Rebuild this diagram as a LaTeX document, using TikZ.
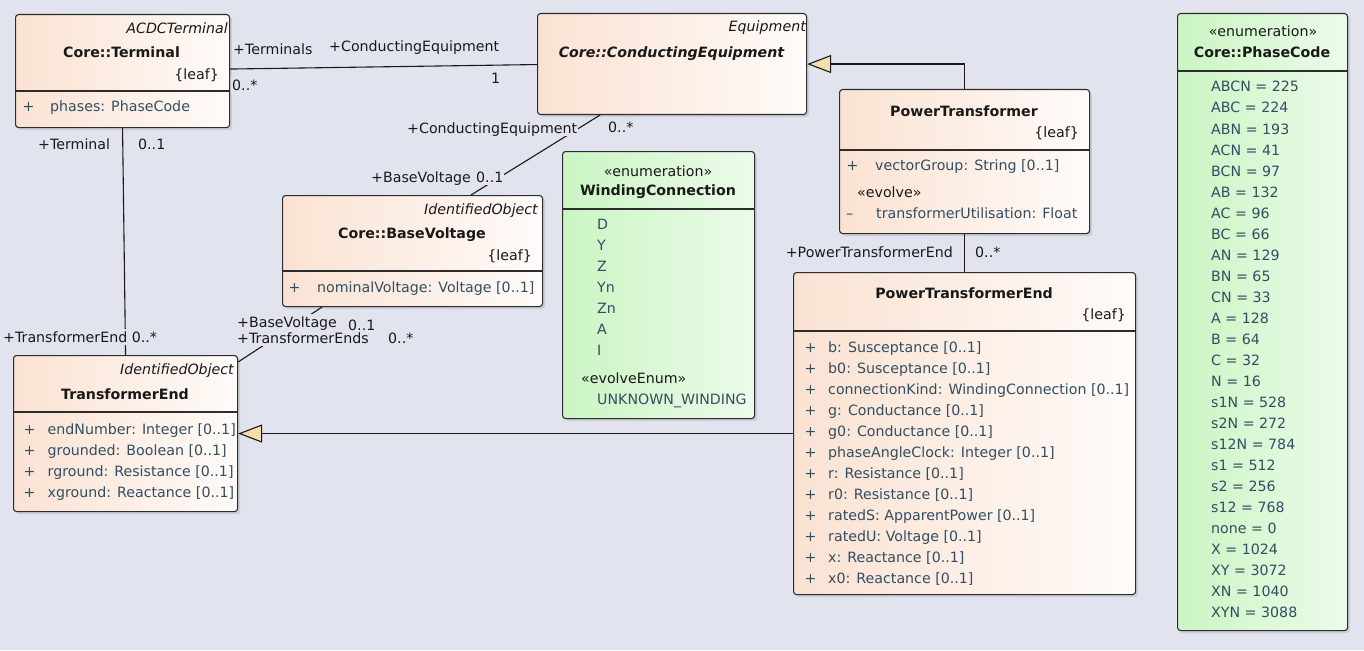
\documentclass[tikz,border=0pt]{standalone}
\usepackage{fontspec}
\setmainfont{DejaVu Sans}
\usetikzlibrary{arrows.meta,calc,shadows}

\definecolor{canvas}{RGB}{225,228,238}
\definecolor{ink}{RGB}{25,25,25}
\definecolor{frame}{RGB}{45,45,45}
\definecolor{peachL}{RGB}{250,226,210}
\definecolor{peachR}{RGB}{255,251,249}
\definecolor{mintL}{RGB}{203,245,195}
\definecolor{mintR}{RGB}{236,251,234}
\definecolor{attr}{RGB}{50,78,98}
\definecolor{shade}{RGB}{203,206,215}
\definecolor{tri}{RGB}{248,221,172}

\newcommand{\umlfont}{\fontsize{14.2}{17}\selectfont}

\begin{document}
\begin{tikzpicture}[x=1pt,y=-1pt,
  box/.style={draw=frame, line width=1.1pt, rounded corners=3pt, anchor=north west, inner sep=0pt,
     drop shadow={shadow xshift=2.5pt, shadow yshift=-2.5pt, fill=shade, opacity=1}},
  cls/.style={box, left color=peachL, right color=peachR},
  enm/.style={box, left color=mintL, right color=mintR},
  txt/.style={inner sep=0pt, text height=13pt, text depth=3pt, font=\umlfont, text=ink},
  title/.style={txt, font=\umlfont\bfseries},
  parent/.style={txt, font=\umlfont\itshape, anchor=east},
  leaf/.style={txt, anchor=east},
  item/.style={txt, anchor=west, text=attr},
  stereo/.style={txt, anchor=west},
  mult/.style={txt, anchor=west},
  lbl/.style={txt, anchor=west, fill=canvas, inner xsep=1pt, inner ysep=0pt},
  sep/.style={draw=frame, line width=1.1pt},
  assoc/.style={draw=ink, line width=1.1pt},
  gen/.style={draw=ink, line width=1.1pt, -{Triangle[length=24pt,width=18pt,fill=tri]}},
]
\fill[canvas] (0,0) rectangle (1364,650);
\useasboundingbox (0,0) rectangle (1364,650);

% ---------- class boxes ----------
\node[cls, minimum width=214pt, minimum height=113pt] (term) at (15,14) {};
\node[cls, minimum width=269pt, minimum height=101pt] (ce) at (537,13) {};
\node[cls, minimum width=250pt, minimum height=144pt] (pt) at (839,89) {};
\node[cls, minimum width=260pt, minimum height=111pt] (bv) at (282,195) {};
\node[enm, minimum width=192pt, minimum height=267pt] (wc) at (562,151) {};
\node[cls, minimum width=224pt, minimum height=156pt] (te) at (13,355) {};
\node[cls, minimum width=342pt, minimum height=322pt] (pte) at (793,272) {};
\node[enm, minimum width=170pt, minimum height=617pt] (pc) at (1177,13) {};

% ---------- compartment separators ----------
\draw[sep] ($(term.north west)+(0,77)$) -- ($(term.north east)+(0,77)$);
\draw[sep] ($(pt.north west)+(0,61)$) -- ($(pt.north east)+(0,61)$);
\draw[sep] ($(bv.north west)+(0,76)$) -- ($(bv.north east)+(0,76)$);
\draw[sep] ($(wc.north west)+(0,58)$) -- ($(wc.north east)+(0,58)$);
\draw[sep] ($(te.north west)+(0,57)$) -- ($(te.north east)+(0,57)$);
\draw[sep] ($(pte.north west)+(0,59)$) -- ($(pte.north east)+(0,59)$);
\draw[sep] ($(pc.north west)+(0,58)$) -- ($(pc.north east)+(0,58)$);

% ---------- Core::Terminal ----------
\node[parent] (term-p) at (228,29) {ACDCTerminal};
\node[title] (term-t) at (121.5,53) {Core::Terminal};
\node[leaf] (term-l) at (219,75) {\{leaf\}};
\node[item] (term-s1) at (22.5,107) {+};
\node[item] (term-a1) at (50,107) {phases: PhaseCode};

% ---------- Core::ConductingEquipment ----------
\node[parent] (ce-p) at (806,27) {Equipment};
\node[title, font=\umlfont\bfseries\itshape] (ce-t) at (671.5,53) {Core::ConductingEquipment};

% ---------- PowerTransformer ----------
\node[title] (pt-t) at (964,112) {PowerTransformer};
\node[leaf] (pt-l) at (1079,133) {\{leaf\}};
\node[item] (pt-s1) at (846.5,165) {+};
\node[item] (pt-a1) at (875,165) {vectorGroup: String [0..1]};
\node[stereo] (pt-st) at (857,192) {«evolve»};
\node[item] (pt-s2) at (846,213) {–};
\node[item] (pt-a2) at (876,213) {transformerUtilisation: Float};

% ---------- Core::BaseVoltage ----------
\node[parent] (bv-p) at (538,209) {IdentifiedObject};
\node[title] (bv-t) at (412,233) {Core::BaseVoltage};
\node[leaf] (bv-l) at (532,255) {\{leaf\}};
\node[item] (bv-s1) at (288.5,287) {+};
\node[item] (bv-a1) at (317,287) {nominalVoltage: Voltage [0..1]};

% ---------- WindingConnection ----------
\node[txt] (wc-st) at (658,171) {«enumeration»};
\node[title] (wc-t) at (658,190) {WindingConnection};
\foreach \v [count=\k from 0] in {D, Y, Z, Yn, Zn, A, I}
  \node[item] (wc-v\k) at (597,224+21.1*\k) {\v};
\node[stereo] (wc-ev) at (581,378) {«evolveEnum»};
\node[item] (wc-u) at (597,399) {UNKNOWN\_WINDING};

% ---------- TransformerEnd ----------
\node[parent] (te-p) at (234,369) {IdentifiedObject};
\node[title] (te-t) at (125,394) {TransformerEnd};
\foreach \a [count=\k from 0] in {endNumber: Integer [0..1], grounded: Boolean [0..1],
    rground: Resistance [0..1], xground: Reactance [0..1]}{
  \node[item] (te-s\k) at (23.5,429+21*\k) {+};
  \node[item] (te-a\k) at (47.5,429+21*\k) {\a};
}

% ---------- PowerTransformerEnd ----------
\node[title] (pte-t) at (964,293) {PowerTransformerEnd};
\node[leaf] (pte-l) at (1126,314) {\{leaf\}};
\foreach \a [count=\k from 0] in {b: Susceptance [0..1], b0: Susceptance [0..1],
    connectionKind: WindingConnection [0..1], g: Conductance [0..1], g0: Conductance [0..1],
    phaseAngleClock: Integer [0..1], r: Resistance [0..1], r0: Resistance [0..1],
    ratedS: ApparentPower [0..1], ratedU: Voltage [0..1], x: Reactance [0..1], x0: Reactance [0..1]}{
  \node[item] (pte-s\k) at (804.5,347+21*\k) {+};
  \node[item] (pte-a\k) at (828,347+21*\k) {\a};
}

% ---------- Core::PhaseCode ----------
\node[txt] (pc-st) at (1263,32) {«enumeration»};
\node[title] (pc-t) at (1262,53) {Core::PhaseCode};
\foreach \v [count=\k from 0] in {ABCN = 225, ABC = 224, ABN = 193, ACN = 41, BCN = 97,
    AB = 132, AC = 96, BC = 66, AN = 129, BN = 65, CN = 33, A = 128, B = 64, C = 32,
    N = 16, s1N = 528, s2N = 272, s12N = 784, s1 = 512, s2 = 256, s12 = 768, none = 0,
    X = 1024, XY = 3072, XN = 1040, XYN = 3088}
  \node[item] (pc-v\k) at (1211,87+21*\k) {\v};

% ---------- connectors ----------
\draw[assoc] ($(term.east)+(0,-2)$) -- ($(ce.west)+(0,0.5)$);
\draw[assoc] (term.south) -- (te.north);
\draw[assoc] ($(ce.south west)+(63,0)$) -- ($(bv.north west)+(189,0)$);
\draw[assoc] ($(bv.south west)+(40,0)$) -- ($(te.north east)+(0,7)$);
\draw[assoc] (pt.south) -- (pte.north);
\draw[gen] (pt.north) |- (ce.east);
\draw[gen] (te.east -| pte.west) -- (te.east);

% ---------- association end labels ----------
\node[lbl] (l-terms) at (232,50) {+Terminals};
\node[lbl] (l-termsm) at (231,86) {0..*};
\node[lbl] (l-ce1) at (328,47) {+ConductingEquipment};
\node[lbl] (l-ce1m) at (490,79) {1};
\node[lbl] (l-term) at (37,144) {+Terminal};
\node[lbl] (l-termm) at (137,144) {0..1};
\node[lbl] (l-te) at (2,337) {+TransformerEnd 0..*};
\node[lbl] (l-ce2) at (406,128) {+ConductingEquipment};
\node[lbl] (l-ce2m) at (607,127) {0..*};
\node[lbl] (l-bv1) at (370,177) {+BaseVoltage};
\node[lbl] (l-bv1m) at (475,177) {0..1};
\node[lbl] (l-tes) at (236,338) {+TransformerEnds};
\node[lbl] (l-bv2) at (236,322) {+BaseVoltage};
\node[mult] (l-bv2m) at (348,325) {0..1};
\node[mult] (l-tesm) at (388,338) {0..*};
\node[lbl, anchor=east] (l-pte) at (954,252) {+PowerTransformerEnd};
\node[lbl] (l-ptem) at (974,252) {0..*};
\end{tikzpicture}
\end{document}
